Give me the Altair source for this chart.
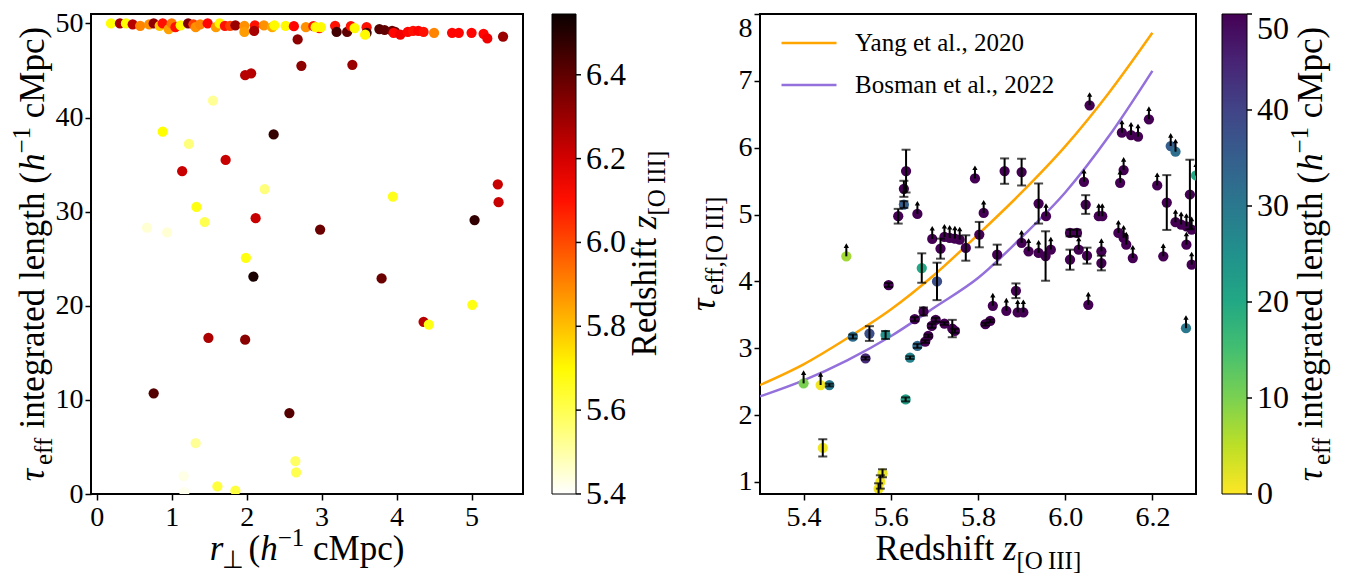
import altair as alt
import pandas as pd

SERIF = "Liberation Serif"

# ---- left panel: tau_eff integration length vs transverse separation ----
# sightlines whose integration reaches the ~50 cMpc cap
plateau_r = [0.19, 0.31, 0.39, 0.48, 0.58, 0.70, 0.76, 0.84, 0.88, 0.96,
             1.00, 1.05, 1.12, 1.22, 1.29, 1.32, 1.38, 1.48, 1.59, 1.64,
             1.71, 1.78, 1.85, 1.97, 1.97, 2.11, 2.10, 2.23, 2.34, 2.37,
             2.52, 2.63, 2.79, 2.89, 2.97, 2.92, 2.99, 3.18, 3.20, 3.34,
             3.39, 3.44, 3.60, 3.60, 3.58, 3.77, 3.84, 3.94, 3.98, 3.96,
             4.05, 4.15, 4.22, 4.29, 4.36, 4.50, 4.74, 4.83, 5.00, 5.16,
             5.21, 5.42]
plateau_len = [50.0, 50.0, 50.0, 49.9, 49.75, 49.9, 50.0, 49.75, 50.0, 49.4,
               50.0, 49.6, 49.8, 50.0, 49.9, 49.6, 49.9, 50.0, 49.6, 50.0,
               49.75, 49.75, 49.8, 49.75, 49.1, 49.8, 49.2, 49.8, 49.6, 49.8,
               49.75, 49.7, 49.6, 49.7, 49.5, 49.6, 49.6, 49.75, 49.1, 49.1,
               49.7, 49.5, 49.6, 49.0, 48.8, 49.4, 49.3, 49.2, 49.1, 49.0,
               48.8, 49.1, 49.2, 49.2, 49.1, 49.0, 49.0, 49.0, 49.0, 48.9,
               48.4, 48.6]
plateau_z = [5.69, 6.28, 5.69, 6.25, 5.90, 5.88, 6.32, 5.78, 6.10, 5.85,
             5.92, 6.10, 5.70, 6.35, 6.02, 5.88, 5.90, 6.12, 5.86, 5.70,
             6.10, 6.02, 6.30, 5.88, 5.86, 6.10, 6.28, 5.88, 5.84, 5.70,
             5.70, 6.12, 5.88, 6.08, 6.10, 5.70, 5.70, 6.10, 6.45, 6.40,
             6.10, 5.70, 6.10, 6.45, 5.70, 6.42, 6.40, 6.38, 6.38, 6.12,
             6.15, 6.12, 6.10, 6.12, 6.10, 5.90, 6.12, 6.12, 6.12, 6.12,
             6.15, 6.30]
# sightlines that stop short of the cap
short_r = [2.68, 1.98, 2.06, 2.73, 3.41, 1.55, 0.88, 1.23, 2.36, 1.72,
           1.14, 2.24, 5.35, 5.36, 3.95, 1.33, 2.12, 5.04, 1.44, 0.67,
           0.94, 2.98, 1.99, 2.09, 3.80, 5.01, 4.36, 4.43, 1.49, 1.98,
           0.76, 2.57, 1.32, 2.65, 2.66, 1.16, 1.17, 1.61, 1.85]
short_len = [48.3, 44.5, 44.7, 45.5, 45.6, 41.8, 38.5, 37.2, 38.2, 35.5,
             34.3, 32.4, 32.9, 31.0, 31.6, 30.5, 29.3, 29.1, 28.9, 28.3,
             27.8, 28.1, 25.1, 23.1, 22.9, 20.1, 18.3, 18.0, 16.6, 16.4,
             10.7, 8.6, 5.4, 3.5, 2.3, 1.9, 0.2, 0.8, 0.35]
short_z = [6.32, 6.25, 6.25, 6.32, 6.30, 5.52, 5.69, 5.55, 6.47, 6.22,
           6.22, 5.55, 6.22, 6.22, 5.66, 5.67, 6.22, 6.48, 5.60, 5.45,
           5.45, 6.38, 5.67, 6.52, 6.38, 5.67, 6.25, 5.67, 6.27, 6.33,
           6.42, 6.42, 5.52, 5.58, 5.60, 5.43, 5.42, 5.62, 5.62]
redshift_ticks = [5.4, 5.6, 5.8, 6.0, 6.2, 6.4]

# ---- right panel: tau_eff vs [OIII] redshift ----
# measurements with error bars
det_z = [5.459, 5.444, 5.581, 5.576, 5.572, 5.513, 5.551, 5.588, 5.542, 5.634,
         5.644, 5.661, 5.671, 5.706, 5.595, 5.655, 5.675, 5.679, 5.686, 5.694,
         5.703, 5.723, 5.741, 5.747, 5.817, 5.828, 5.887, 5.635, 5.630, 5.630,
         5.617, 5.714, 5.772, 5.803, 5.844, 5.861, 5.900, 5.939, 5.955, 6.011,
         6.027, 6.011, 6.050, 6.047, 6.083, 6.233, 6.286]
det_tau = [2.45, 1.51, 1.13, 1.00, 0.90, 3.175, 3.22, 3.20, 2.85, 2.235,
           2.86, 3.035, 4.20, 4.00, 3.945, 3.435, 3.55, 3.10, 3.185, 3.335,
           3.425, 3.37, 3.295, 3.26, 3.36, 3.41, 3.86, 5.65, 5.385, 5.15,
           4.975, 4.49, 4.50, 4.70, 4.40, 5.65, 5.635, 5.165, 4.38, 4.725,
           4.725, 4.325, 4.385, 5.15, 4.275, 5.18, 5.30]
det_len = [30, 1, 2, 1, 1, 32, 38, 25, 44, 22,
           28, 33, 20, 38, 50, 50, 50, 50, 50, 50,
           50, 50, 50, 50, 50, 50, 50, 50, 50, 35,
           50, 50, 50, 50, 50, 50, 50, 50, 50, 50,
           50, 50, 50, 50, 50, 50, 50]
det_err = [0.02, 0.13, 0.06, 0.10, 0.08, 0.03, 0.11, 0.06, 0.02, 0.03,
           0.02, 0.03, 0.22, 0.28, 0.03, 0.03, 0.06, 0.02, 0.02, 0.03,
           0.03, 0.02, 0.13, 0.03, 0.02, 0.02, 0.11, 0.32, 0.12, 0.05,
           0.11, 0.15, 0.19, 0.19, 0.15, 0.19, 0.20, 0.30, 0.37, 0.05,
           0.05, 0.15, 0.12, 0.14, 0.11, 0.41, 0.52]
# lower limits
lim_z = [5.400, 5.439, 5.834, 5.865, 5.891, 5.904, 6.053, 6.277, 6.290, 5.498,
         5.661, 5.695, 5.723, 5.735, 5.747, 5.758, 5.793, 5.813, 5.900, 5.956,
         5.939, 5.967, 6.031, 6.043, 6.056, 6.077, 6.085, 6.083, 6.122, 6.134,
         6.126, 6.134, 6.140, 6.155, 6.130, 6.151, 6.167, 6.192, 6.211, 6.225,
         6.242, 6.253, 6.253, 6.266, 6.278, 6.290, 6.278, 6.300, 5.916]
lim_tau = [2.475, 2.45, 3.635, 3.56, 3.535, 3.535, 3.65, 3.30, 4.25, 4.375,
           5.01, 4.635, 4.665, 4.65, 4.64, 4.625, 5.54, 5.025, 4.575, 4.975,
           4.425, 4.475, 4.475, 5.49, 6.635, 4.975, 4.975, 4.45, 4.725, 4.65,
           5.475, 5.665, 4.55, 4.35, 6.225, 6.19, 6.165, 6.425, 5.435, 4.375,
           6.025, 5.94, 4.885, 4.85, 4.825, 4.775, 4.55, 5.585, 4.45]
lim_len = [10, 1, 50, 50, 50, 50, 50, 30, 50, 7,
           50, 50, 50, 50, 50, 50, 50, 50, 50, 50,
           50, 50, 50, 50, 50, 50, 50, 50, 50, 50,
           50, 50, 50, 50, 50, 50, 50, 50, 50, 50,
           35, 32, 50, 50, 50, 50, 50, 20, 50]
length_ticks = [0, 10, 20, 30, 40, 50]

# literature relations
curve_z = [5.3, 5.4, 5.5, 5.6, 5.7, 5.8, 5.9, 6.0, 6.1, 6.2]
yang_tau = [2.45, 2.76, 3.15, 3.58, 4.10, 4.70, 5.33, 6.02, 6.82, 7.72]
bosman_tau = [2.28, 2.52, 2.82, 3.18, 3.61, 4.05, 4.66, 5.33, 6.17, 7.15]
studies = ["Yang et al., 2020", "Bosman et al., 2022"]

# rough Times advance widths (em) so that sub/superscript pieces line up
GLYPH_EM = {
    " ": 0.25, "\u2009": 0.17, "(": 0.333, ")": 0.333, ",": 0.25, "[": 0.333,
    "]": 0.333, "1": 0.5, "\u2212": 0.564, "I": 0.333, "M": 0.889, "O": 0.722,
    "R": 0.667, "a": 0.444, "c": 0.444, "d": 0.5, "e": 0.444, "f": 0.333,
    "g": 0.5, "h": 0.5, "i": 0.278, "l": 0.278, "n": 0.5, "p": 0.5, "r": 0.36,
    "s": 0.389, "t": 0.278, "z": 0.389, "\u03c4": 0.46, "\u22a5": 0.7,
}


def text_span(text, size):
    return size * sum(GLYPH_EM.get(ch, 0.5) for ch in text)


def rich_label(pieces, x, y, vertical=False):
    """Lay out (text, size, italic, shift) pieces centred on pixel (x, y).
    Leading/trailing blanks are turned into offsets (svg drops them)."""
    total = sum(text_span(t, s) for t, s, _, _ in pieces)
    offset = -total / 2
    layers = []
    for text, size, italic, shift in pieces:
        core = text.strip(" ")
        lead = len(text) - len(text.lstrip(" "))
        trail = len(text) - len(text.rstrip(" "))
        offset += text_span(" " * lead, size)
        layers.append(
            alt.Chart(pd.DataFrame({"label": [core]})).mark_text(
                font=SERIF, fontSize=size,
                fontStyle="italic" if italic else "normal",
                align="left", baseline="alphabetic",
                angle=270 if vertical else 0,
                dx=offset, dy=shift, color="black",
            ).encode(text="label:N", x=alt.value(x), y=alt.value(y))
        )
        offset += text_span(core, size) + text_span(" " * trail, size)
    return layers


def colorbar_ticks(values, domain, x0):
    """Small outward ticks on the right edge of a colorbar."""
    return alt.Chart(pd.DataFrame({"v": values})).mark_rule(
        color="black", strokeWidth=1.5
    ).encode(
        y=alt.Y("v:Q", scale=alt.Scale(domain=domain, nice=False, zero=False), axis=None),
        x=alt.value(x0), x2=alt.value(x0 + 5),
    )


F, S = 35, 25
tau_len_title = [("\u03c4", F, True, 0), ("eff", S, False, 8),
                 (" integrated length (", F, False, 0), ("h", F, True, 0),
                 ("\u22121", S, False, -14), (" cMpc)", F, False, 0)]
rperp_title = [("r", F, True, 0), ("\u22a5", S, False, 8), (" (", F, False, 0),
               ("h", F, True, 0), ("\u22121", S, False, -14), (" cMpc)", F, False, 0)]
redshift_title = [("Redshift ", F, False, 0), ("z", F, True, 0),
                  ("[O\u2009III]", S, False, 9)]
tau_oiii_title = [("\u03c4", F, True, 0), ("eff,[O\u2009III]", S, False, 8)]

W1, W2, H = 432, 436, 480
CB1_OFF, CB1_W = 29, 24
CB2_OFF, CB2_W = 26, 25

# ---------------- left chart ----------------
left_df = pd.DataFrame({
    "r": plateau_r + short_r,
    "length": plateau_len + short_len,
    "z": plateau_z + short_z,
})

z_domain = [5.3999, 6.545]
hot_r = alt.Scale(domain=[z_domain[0], 5.691, 6.127, z_domain[1]],
                  range=["#ffffff", "#ffff00", "#ff0000", "#0b0000"],
                  interpolate="rgb")

left_points = alt.Chart(left_df).mark_circle(size=105, opacity=1, clip=True).encode(
    x=alt.X("r:Q", scale=alt.Scale(domain=[-0.076, 5.686], nice=False, zero=False),
            axis=alt.Axis(values=[0, 1, 2, 3, 4, 5], format="d", title=None)),
    y=alt.Y("length:Q", scale=alt.Scale(domain=[0, 51], nice=False),
            axis=alt.Axis(values=[0, 10, 20, 30, 40, 50], format="d", title=None,
                          labelPadding=2)),
    color=alt.Color("z:Q", scale=hot_r, legend=alt.Legend(
        title=None, orient="right", offset=CB1_OFF, gradientLength=H,
        gradientThickness=CB1_W, values=redshift_ticks, format=".1f",
        labelFontSize=32, labelOffset=10, gradientStrokeColor="black",
        gradientStrokeWidth=1)),
)

left = alt.layer(
    alt.layer(
        left_points,
        *rich_label(tau_len_title, -47, H / 2, vertical=True),
        *rich_label(rperp_title, W1 / 2, 546),
        *rich_label(redshift_title, W1 + 133, H / 2, vertical=True),
    ),
    colorbar_ticks(redshift_ticks, z_domain, W1 + CB1_OFF + CB1_W),
).resolve_scale(y="independent").properties(width=W1, height=H)

# ---------------- right chart ----------------
points_df = pd.DataFrame({"z": det_z + lim_z, "tau": det_tau + lim_tau,
                          "length": det_len + lim_len})
det_df = pd.DataFrame({"z": det_z, "tau": det_tau, "err": det_err})
lim_df = pd.DataFrame({"z": lim_z, "tau": lim_tau})
curve_df = pd.DataFrame({
    "z": curve_z + curve_z,
    "tau": yang_tau + bosman_tau,
    "study": [studies[0]] * len(curve_z) + [studies[1]] * len(curve_z),
})

z_scale = alt.Scale(domain=[5.3, 6.3], nice=False, zero=False)
tau_scale = alt.Scale(domain=[0.82, 8], nice=False, zero=False)
z_axis = alt.Axis(values=[5.4, 5.6, 5.8, 6.0, 6.2], format=".1f", title=None)
tau_axis = alt.Axis(values=[1, 2, 3, 4, 5, 6, 7, 8], format="d", title=None,
                    labelPadding=2,
                    labelBaseline={"condition": {"test": "datum.value >= 8", "value": "top"},
                                   "value": "middle"})


def zx(field="z"):
    return alt.X(f"{field}:Q", scale=z_scale, axis=z_axis)


def ty(field):
    return alt.Y(f"{field}:Q", scale=tau_scale, axis=tau_axis)


len_domain = [-0.0001, 50]
viridis_r = alt.Scale(
    domain=[len_domain[0], 5, 10, 15, 20, 25, 30, 35, 40, 45, len_domain[1]],
    range=["#fde725", "#bddf26", "#7ad151", "#44bf70", "#22a884", "#21918c",
           "#2a788e", "#355f8d", "#414487", "#482475", "#440154"],
    interpolate="rgb")

curves = alt.Chart(curve_df).mark_line(strokeWidth=2.5, clip=True, interpolate="monotone").encode(
    x=zx(), y=ty("tau"),
    stroke=alt.Stroke("study:N", scale=alt.Scale(domain=studies, range=["#ffa500", "#9370db"]),
                      legend=alt.Legend(title=None, orient="none", legendX=20, legendY=0,
                                        symbolType="stroke", symbolSize=3025,
                                        symbolStrokeWidth=2.5, labelFontSize=25,
                                        labelOffset=17, rowPadding=-26, labelLimit=400)),
    detail="study:N",
)

right_points = alt.Chart(points_df).mark_circle(size=105, opacity=1, clip=True).encode(
    x=zx(), y=ty("tau"),
    color=alt.Color("length:Q", scale=viridis_r, legend=alt.Legend(
        title=None, orient="right", offset=CB2_OFF, gradientLength=H,
        gradientThickness=CB2_W, values=length_ticks, format="d", labelFontSize=32,
        labelOffset=10, gradientStrokeColor="black", gradientStrokeWidth=1)),
)

err_base = alt.Chart(det_df).transform_calculate(
    lo="datum.tau - datum.err", hi="datum.tau + datum.err")
err_rules = err_base.mark_rule(color="black", strokeWidth=2, clip=True).encode(
    x=zx(), y=ty("lo"), y2="hi:Q")
err_low = err_base.mark_tick(color="black", orient="horizontal", size=9, thickness=2,
                             clip=True).encode(x=zx(), y=ty("lo"))
err_high = err_base.mark_tick(color="black", orient="horizontal", size=9, thickness=2,
                              clip=True).encode(x=zx(), y=ty("hi"))

lim_base = alt.Chart(lim_df).transform_calculate(tip="datum.tau + 0.16")
lim_stems = lim_base.mark_rule(color="black", strokeWidth=2, clip=True).encode(
    x=zx(), y=ty("tau"), y2="tip:Q")
lim_heads = lim_base.mark_point(shape="triangle-up", filled=True, size=28, opacity=1,
                                color="black", clip=True).encode(x=zx(), y=ty("tip"))

right = alt.layer(
    alt.layer(
        curves, right_points, err_rules, err_low, err_high, lim_stems, lim_heads,
        *rich_label(tau_oiii_title, -45, H / 2, vertical=True),
        *rich_label(redshift_title, W2 / 2, 546),
        *rich_label(tau_len_title, W2 + 126, H / 2, vertical=True),
    ),
    colorbar_ticks(length_ticks, len_domain, W2 + CB2_OFF + CB2_W),
).resolve_scale(y="independent").properties(width=W2, height=H)

chart = alt.hconcat(left, right, spacing=15).resolve_scale(
    color="independent", stroke="independent"
).resolve_legend(
    color="independent", stroke="independent"
).properties(
    padding={"left": 0, "top": 0, "right": 0, "bottom": 0}
).configure(
    font=SERIF
).configure_view(
    stroke="black", strokeWidth=2
).configure_axis(
    labelFont=SERIF, labelFontSize=28, labelColor="black", tickColor="black",
    tickWidth=1.5, tickSize=6, domain=False, grid=False, labelPadding=3
).configure_legend(
    labelFont=SERIF, labelColor="black", padding=0
)

chart.save("out.html", embed_options={"renderer": "svg", "actions": False})
